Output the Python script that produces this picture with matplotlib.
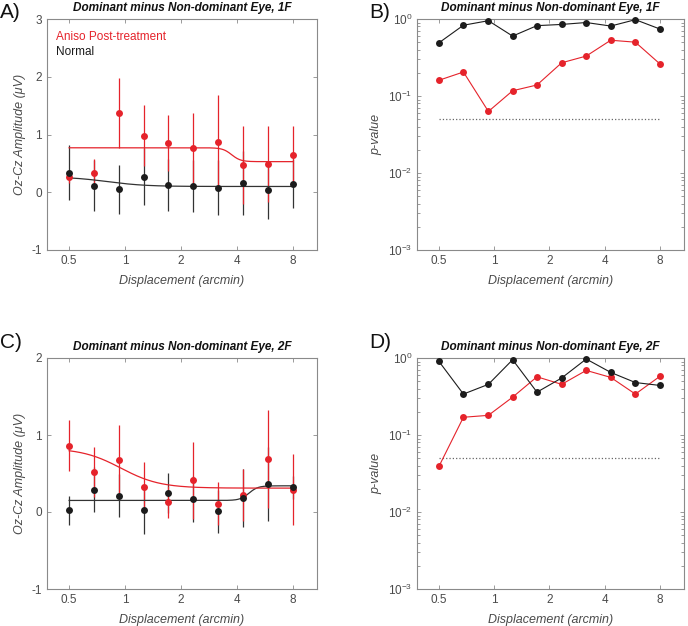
import numpy as np
import matplotlib
matplotlib.use("Agg")
import matplotlib.pyplot as plt
from matplotlib.ticker import FixedLocator, NullFormatter, LogLocator

plt.rcParams['font.family'] = ['Liberation Sans', 'DejaVu Sans']

# ---- data ----
disp = [0.5, 0.68, 0.93, 1.26, 1.71, 2.33, 3.17, 4.31, 5.87, 8.0]
xticks = [0.5, 1, 2, 4, 8]
xticklabels = ['0.5', '1', '2', '4', '8']

# Panel A (1F amplitudes)
a_red = [0.26, 0.34, 1.37, 0.98, 0.85, 0.76, 0.87, 0.47, 0.49, 0.64]
a_red_err = [0.10, 0.23, 0.60, 0.53, 0.49, 0.61, 0.81, 0.68, 0.66, 0.50]
a_blk = [0.34, 0.11, 0.05, 0.27, 0.12, 0.10, 0.08, 0.16, 0.04, 0.15]
a_blk_err = [0.47, 0.44, 0.43, 0.49, 0.45, 0.45, 0.48, 0.56, 0.50, 0.42]
# fitted sigmoid parameters: (base, amplitude, midpoint, width in log2 units)
a_red_fit = (0.53, 0.24, 3.75, 0.08)
a_blk_fit = (0.10, 0.17, 0.80, 0.35)

# Panel B (1F p-values)
b_blk = [0.49, 0.83, 0.95, 0.60, 0.82, 0.85, 0.90, 0.81, 0.98, 0.74]
b_red = [0.16, 0.205, 0.063, 0.117, 0.139, 0.27, 0.33, 0.53, 0.50, 0.26]

# Panel C (2F amplitudes)
c_red = [0.86, 0.52, 0.68, 0.33, 0.13, 0.41, 0.11, 0.22, 0.69, 0.29]
c_red_err = [0.33, 0.32, 0.45, 0.32, 0.21, 0.50, 0.28, 0.34, 0.64, 0.46]
c_blk = [0.02, 0.29, 0.21, 0.02, 0.25, 0.17, 0.01, 0.18, 0.36, 0.32]
c_blk_err = [0.19, 0.29, 0.28, 0.30, 0.26, 0.30, 0.28, 0.38, 0.48, 0.15]
c_red_fit = (0.31, 0.52, 0.95, 0.35)
c_blk_fit = (0.34, -0.19, 4.65, 0.08)

# Panel D (2F p-values)
d_blk = [0.905, 0.34, 0.455, 0.95, 0.36, 0.55, 0.97, 0.65, 0.48, 0.44]
d_red = [0.039, 0.17, 0.18, 0.31, 0.57, 0.455, 0.69, 0.56, 0.34, 0.58]

alpha_level = 0.05

title_1f = 'Dominant minus Non-dominant Eye, 1F'
title_2f = 'Dominant minus Non-dominant Eye, 2F'
xlabel = 'Displacement (arcmin)'
ylabel_amp = 'Oz-Cz Amplitude (\u03bcV)'
ylabel_p = 'p-value'
legend_labels = ['Aniso Post-treatment', 'Normal']

RED = '#e5232b'
BLK = '#1c1c1c'
GREY = '#4a4a4a'
AXC = '#8a8a8a'

W, H = 688, 626
fig = plt.figure(figsize=(W / 100, H / 100), dpi=100)


def ax_at(l, t, r, b):
    return fig.add_axes([l / W, 1 - b / H, (r - l) / W, (b - t) / H])


def sigmoid(x, p):
    base, amp, mid, wd = p
    x = np.asarray(x)
    return base + amp / (1 + np.exp((np.log2(x) - np.log2(mid)) / wd))


def style(ax, title, ylabel):
    ax.set_xscale('log')
    ax.set_xlim(0.38, 10.8)
    ax.xaxis.set_major_locator(FixedLocator(xticks))
    ax.set_xticklabels(xticklabels)
    ax.xaxis.set_minor_formatter(NullFormatter())
    ax.xaxis.set_minor_locator(FixedLocator([]))
    for s in ax.spines.values():
        s.set_color(AXC)
        s.set_linewidth(0.8)
    ax.tick_params(which='both', direction='in', top=True, right=True,
                   colors=AXC, labelcolor=GREY, labelsize=8.5, length=3, width=0.6)
    ax.tick_params(which='minor', length=2)
    ax.set_title(title, fontsize=8.5, fontweight='bold', style='italic', pad=6, color='#111111')
    ax.set_xlabel(xlabel, fontsize=9, style='italic', color=GREY, labelpad=6)
    ax.set_ylabel(ylabel, fontsize=9, style='italic', color=GREY, labelpad=4)


def amp_panel(ax, red, red_err, blk, blk_err, red_fit, blk_fit, ylim, yticks):
    xs = np.geomspace(disp[0], disp[-1], 400)
    ax.errorbar(disp, blk, yerr=blk_err, fmt='none', ecolor='#333333', elinewidth=0.9, zorder=2)
    ax.errorbar(disp, red, yerr=red_err, fmt='none', ecolor=RED, elinewidth=0.9, zorder=3)
    ax.plot(xs, sigmoid(xs, blk_fit), color='#333333', lw=0.9, zorder=3)
    ax.plot(xs, sigmoid(xs, red_fit), color=RED, lw=0.9, zorder=3)
    ax.plot(disp, red, 'o', color=RED, ms=5, mec='none', zorder=4)
    ax.plot(disp, blk, 'o', color=BLK, ms=5, mec='none', zorder=5)
    ax.set_ylim(*ylim)
    ax.set_yticks(yticks)
    ax.set_yticklabels([str(t) for t in yticks])


def p_panel(ax, red, blk):
    ax.set_yscale('log')
    ax.plot([disp[0], disp[-1]], [alpha_level, alpha_level], ':', color='#666666', lw=0.9)
    ax.plot(disp, blk, '-o', color=BLK, ms=5, mec='none', lw=0.8, clip_on=False, zorder=4)
    ax.plot(disp, red, '-o', color=RED, ms=5, mec='none', lw=0.8, clip_on=False, zorder=3)
    ax.set_ylim(1e-3, 1)
    ax.yaxis.set_major_locator(FixedLocator([1e-3, 1e-2, 1e-1, 1]))
    ax.yaxis.set_minor_locator(LogLocator(base=10, subs=np.arange(2, 10)))
    ax.yaxis.set_minor_formatter(NullFormatter())


axA = ax_at(47, 19, 317, 250)
amp_panel(axA, a_red, a_red_err, a_blk, a_blk_err, a_red_fit, a_blk_fit, (-1, 3), [-1, 0, 1, 2, 3])
style(axA, title_1f, ylabel_amp)
axA.text(0.035, 0.95, legend_labels[0], color=RED, fontsize=8.5, transform=axA.transAxes, va='top')
axA.text(0.035, 0.885, legend_labels[1], color=BLK, fontsize=8.5, transform=axA.transAxes, va='top')

axB = ax_at(417, 19, 684, 250)
p_panel(axB, b_red, b_blk)
style(axB, title_1f, ylabel_p)

axC = ax_at(47, 358, 317, 589)
amp_panel(axC, c_red, c_red_err, c_blk, c_blk_err, c_red_fit, c_blk_fit, (-1, 2), [-1, 0, 1, 2])
style(axC, title_2f, ylabel_amp)

axD = ax_at(417, 358, 684, 589)
p_panel(axD, d_red, d_blk)
style(axD, title_2f, ylabel_p)

for lab, x, y in [('A)', 0, 13), ('B)', 369, 13), ('C)', 0, 343), ('D)', 369, 343)]:
    fig.text(x / W, 1 - y / H, lab, fontsize=15, va='center', ha='left', color='#111111')

fig.savefig('out.png', dpi=100)
